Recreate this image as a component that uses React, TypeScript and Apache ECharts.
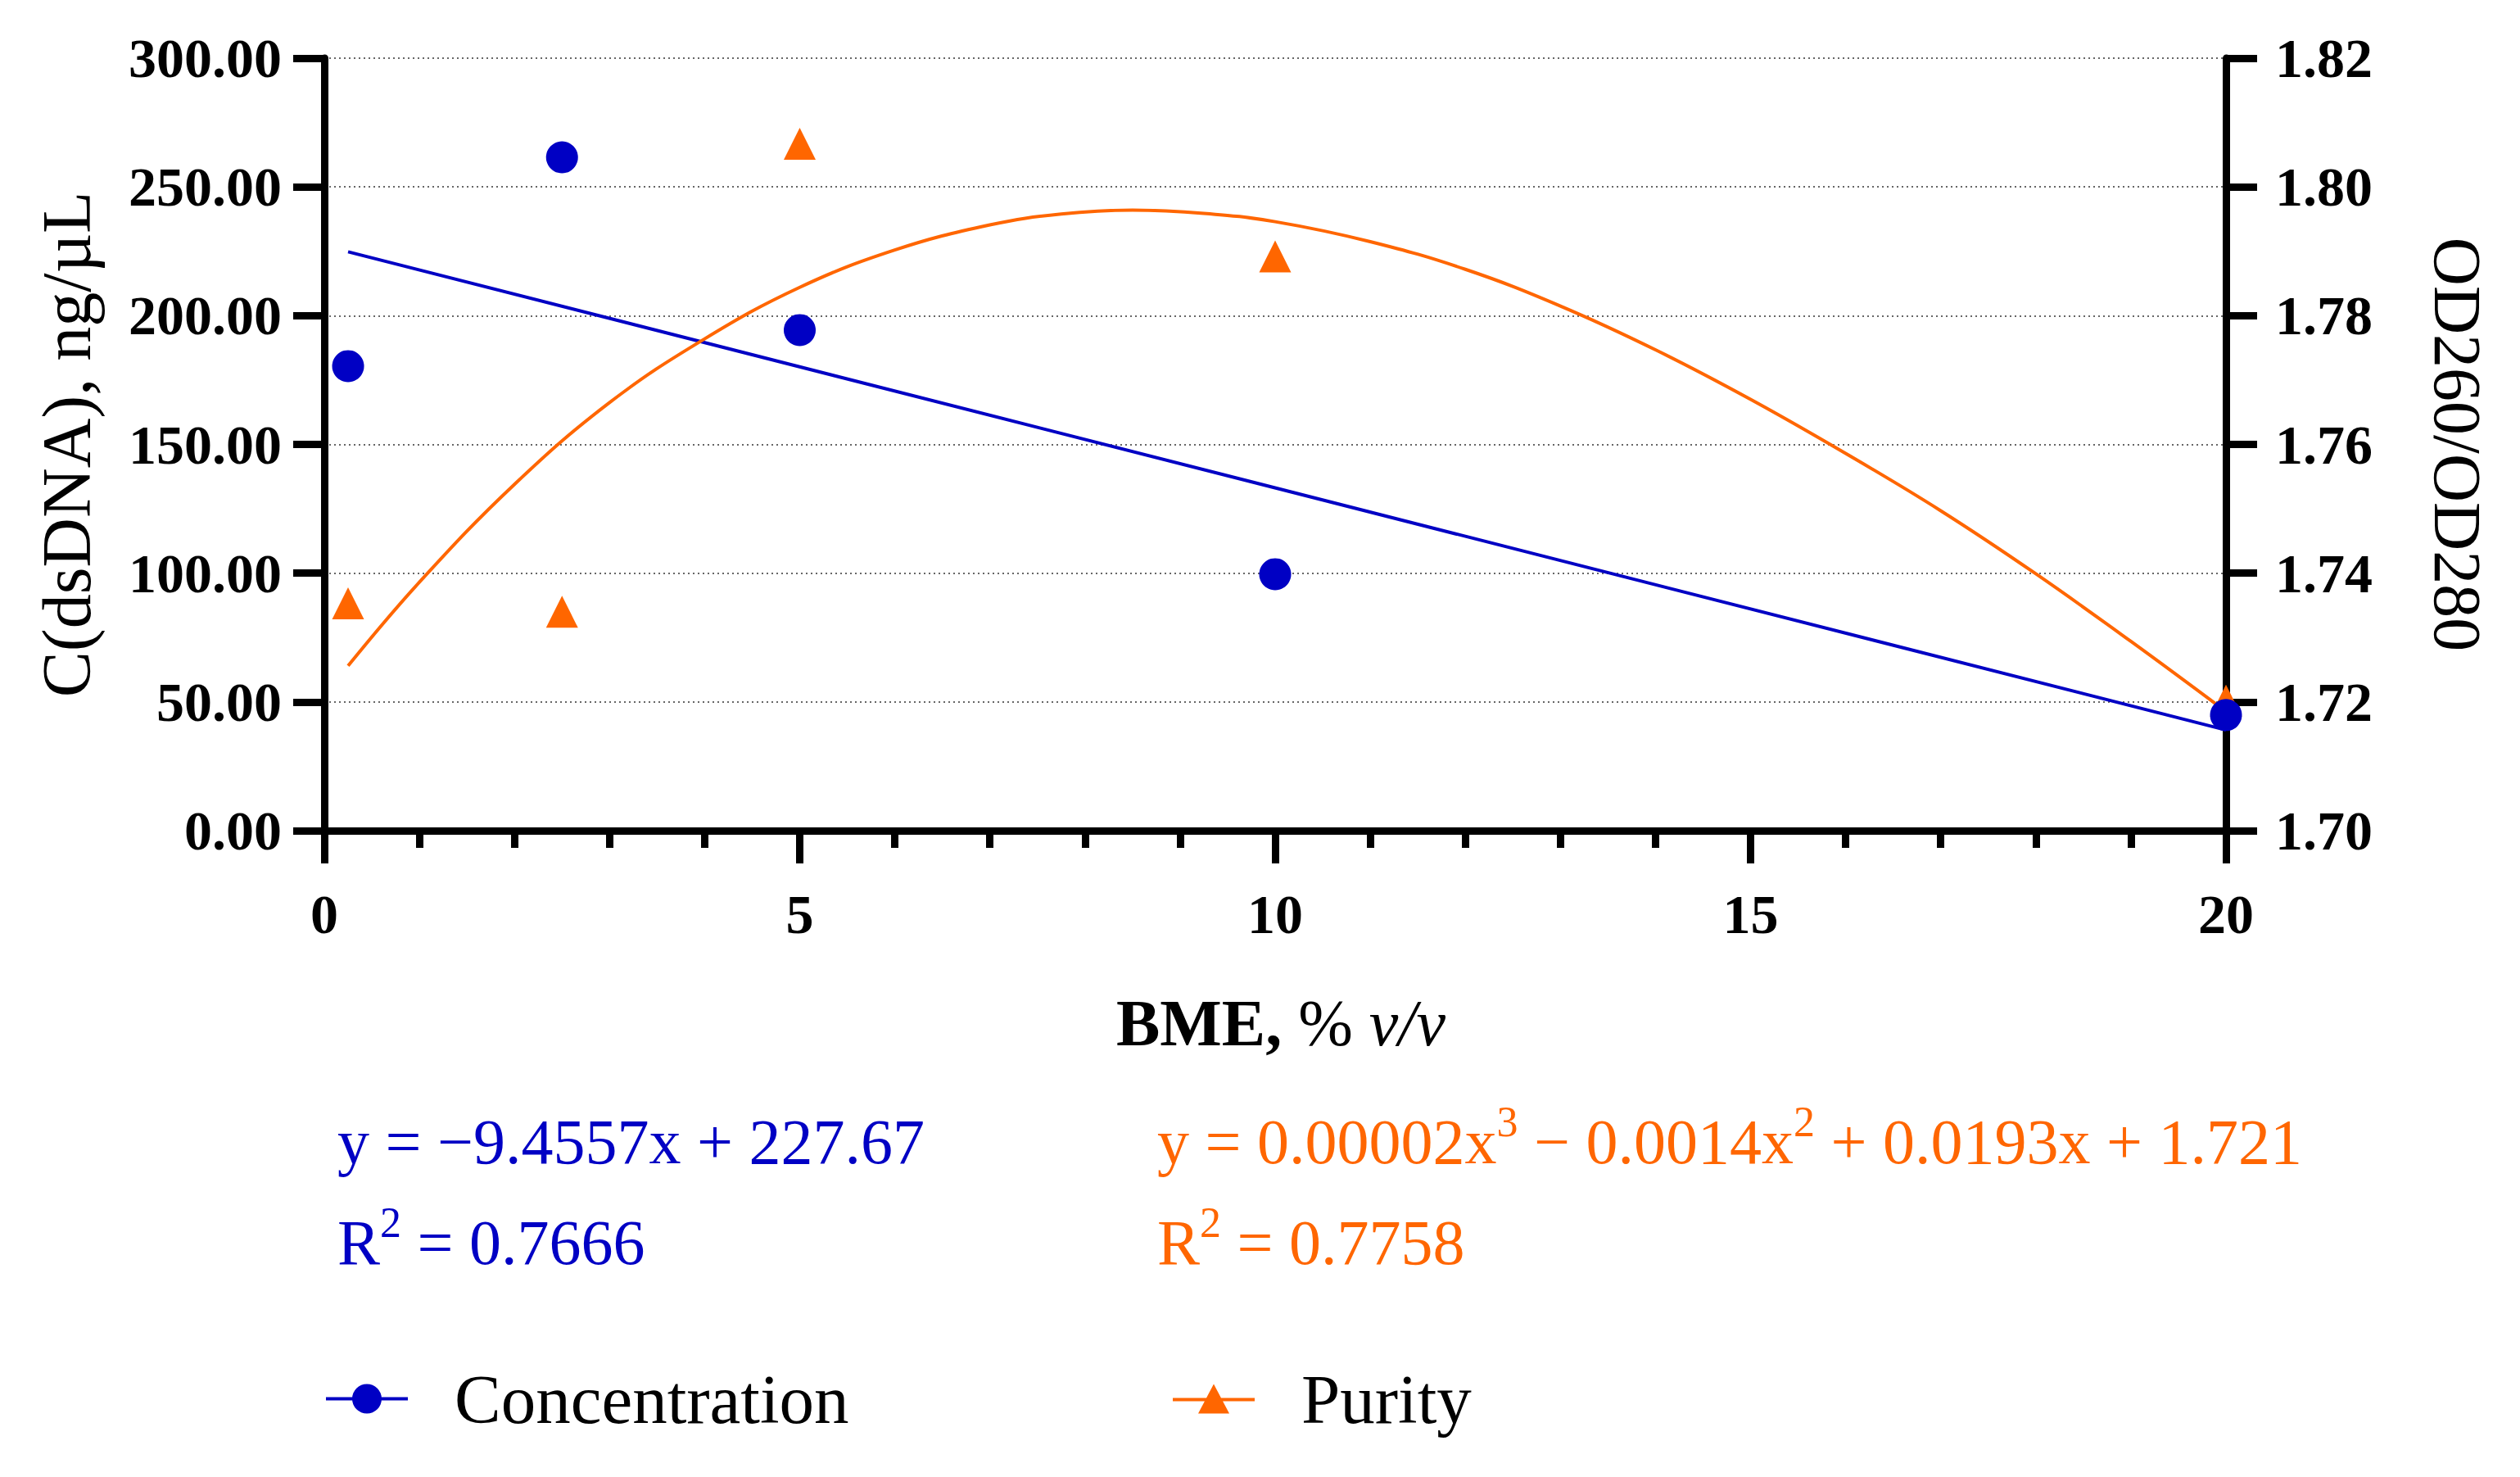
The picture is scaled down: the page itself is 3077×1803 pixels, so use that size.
import React, { useEffect, useRef } from "react";
import * as echarts from "echarts";

// ---- data ----
const BME_X = [0.25, 2.5, 5, 10, 20];
const CONCENTRATION = [180.4, 261.5, 194.4, 99.6, 44.9];
const PURITY = [1.7353, 1.734, 1.8067, 1.7892, 1.7202];

const CONC_FIT_X = [0.25, 20];
const CONC_FIT_Y = [224.8, 39.1];

const PURITY_FIT_X = [0.25, 1, 2, 3, 4, 5, 6, 7, 7.75, 8.5, 9.25, 10, 11, 12, 13, 14, 15, 16, 17, 18, 19, 20];
const PURITY_FIT_Y = [
  1.7256, 1.7386, 1.7538, 1.7665, 1.7764, 1.7844, 1.7902, 1.7941, 1.7958, 1.7964, 1.7959, 1.7946,
  1.7915, 1.7872, 1.7815, 1.7747, 1.767, 1.7586, 1.7497, 1.7399, 1.7294, 1.7185,
];

const LEFT_TICKS = { min: 0, max: 300, interval: 50 };
const RIGHT_TICKS = { min: 1.7, max: 1.82, interval: 0.02 };
const X_TICKS = { min: 0, max: 20, interval: 5 };

const EQ_CONC = ["y = −9.4557x + 227.67", "0.7666"];
const EQ_PURITY = ["y = 0.00002x", "3", " − 0.0014x", "2", " + 0.0193x + 1.721", "0.7758"];

const BLUE = "#0000C4";
const ORANGE = "#FF6600";
const FONT = "Liberation Serif";

const zip = (xs: number[], ys: number[]) => xs.map((x, i) => [x, ys[i]]);

const CIRCLE_ICON =
  "path://M0,16 L34,16 L34,20 L0,20 Z M66,16 L100,16 L100,20 L66,20 Z M32,18 A18,18 0 1,1 68,18 A18,18 0 1,1 32,18 Z";
const TRIANGLE_ICON =
  "path://M0,17 L100,17 L100,21 L0,21 Z M50,0 L69,36 L31,36 Z";

function richMain(color: string) {
  return {
    m: { fontSize: 78, fontFamily: FONT, fill: color, lineHeight: 100, verticalAlign: "middle" },
    s: { fontSize: 52, fontFamily: FONT, fill: color, lineHeight: 40, verticalAlign: "top" },
  };
}

export default function App() {
  const ref = useRef<HTMLDivElement>(null);

  useEffect(() => {
    if (!ref.current) return;
    const chart = echarts.init(ref.current, null, { renderer: "svg" });

    const axisLine = { show: true, onZero: false, lineStyle: { color: "#000", width: 9 } };
    const tickStyle = { color: "#000", width: 9 };
    const tickLabel = { color: "#000", fontSize: 68, fontWeight: "bold" as const, fontFamily: FONT };

    const option: any = {
      animation: false,
      backgroundColor: "#fff",
      grid: { left: 396, right: 359, top: 71, bottom: 789, containLabel: false, outerBoundsMode: "none" },
      xAxis: {
        type: "value",
        min: X_TICKS.min,
        max: X_TICKS.max,
        interval: X_TICKS.interval,
        axisLine,
        axisTick: { show: true, length: 40, lineStyle: tickStyle },
        minorTick: { show: true, splitNumber: 5, length: 21, lineStyle: tickStyle },
        splitLine: { show: false },
        axisLabel: { ...tickLabel, margin: 68 },
        name: "{b|BME,}{r| % }{i|v/v}",
        nameLocation: "middle",
        nameGap: 195,
        nameTextStyle: {
          padding: [0, 0, 0, 14],
          rich: {
            b: { fontSize: 80, fontWeight: "bold", fontFamily: FONT, color: "#000" },
            r: { fontSize: 80, fontFamily: FONT, color: "#000" },
            i: { fontSize: 80, fontStyle: "italic", fontFamily: FONT, color: "#000" },
          },
        },
      },
      yAxis: [
        {
          type: "value",
          position: "left",
          min: LEFT_TICKS.min,
          max: LEFT_TICKS.max,
          interval: LEFT_TICKS.interval,
          axisLine,
          axisTick: { show: true, length: 38, lineStyle: tickStyle },
          axisLabel: { ...tickLabel, margin: 52, formatter: (v: number) => v.toFixed(2) },
          splitLine: { show: true, lineStyle: { color: "#666", width: 2, type: [2, 4] } },
          name: "C(dsDNA), ng/µL",
          nameLocation: "middle",
          nameGap: 273,
          nameTextStyle: { fontSize: 84, fontFamily: FONT, color: "#000" },
        },
        {
          type: "value",
          position: "right",
          min: RIGHT_TICKS.min,
          max: RIGHT_TICKS.max,
          interval: RIGHT_TICKS.interval,
          axisLine,
          axisTick: { show: true, length: 38, lineStyle: tickStyle },
          axisLabel: { ...tickLabel, margin: 60, formatter: (v: number) => v.toFixed(2) },
          splitLine: { show: false },
          name: "OD260/OD280",
          nameLocation: "middle",
          nameRotate: -90,
          nameGap: 241,
          nameTextStyle: { fontSize: 82, fontFamily: FONT, color: "#000" },
        },
      ],
      legend: [
        {
          data: [{ name: "Concentration", icon: CIRCLE_ICON }],
          left: 398,
          top: 1665,
          padding: 0,
          itemWidth: 100,
          itemHeight: 36,
          textStyle: { fontSize: 85, fontFamily: FONT, color: "#000", padding: [0, 0, 0, 52] },
        },
        {
          data: [{ name: "Purity", icon: TRIANGLE_ICON }],
          left: 1432,
          top: 1665,
          padding: 0,
          itemWidth: 100,
          itemHeight: 36,
          textStyle: { fontSize: 85, fontFamily: FONT, color: "#000", padding: [0, 0, 0, 52] },
        },
      ],
      series: [
        {
          name: "Concentration fit",
          type: "line",
          yAxisIndex: 0,
          data: zip(CONC_FIT_X, CONC_FIT_Y),
          showSymbol: false,
          symbol: "none",
          lineStyle: { color: BLUE, width: 4 },
          z: 2,
          silent: true,
        },
        {
          name: "Purity fit",
          type: "line",
          yAxisIndex: 1,
          smooth: 0.4,
          data: zip(PURITY_FIT_X, PURITY_FIT_Y),
          showSymbol: false,
          symbol: "none",
          lineStyle: { color: ORANGE, width: 4 },
          z: 2,
          silent: true,
        },
        {
          name: "Purity",
          type: "scatter",
          yAxisIndex: 1,
          symbol: "triangle",
          symbolSize: 39,
          itemStyle: { color: ORANGE, opacity: 1 },
          data: zip(BME_X, PURITY),
          z: 3,
        },
        {
          name: "Concentration",
          type: "scatter",
          yAxisIndex: 0,
          symbol: "circle",
          symbolSize: 39,
          itemStyle: { color: BLUE, opacity: 1 },
          data: zip(BME_X, CONCENTRATION),
          z: 4,
        },
      ],
      graphic: [
        {
          type: "text",
          x: 412,
          y: 1343,
          style: { text: `{m|${EQ_CONC[0]}}`, rich: richMain(BLUE), verticalAlign: "top", align: "left" },
        },
        {
          type: "text",
          x: 412,
          y: 1466,
          style: { text: `{m|R}{s|2}{m| = ${EQ_CONC[1]}}`, rich: richMain(BLUE), verticalAlign: "top", align: "left" },
        },
        {
          type: "text",
          x: 1413,
          y: 1343,
          style: {
            text: `{m|${EQ_PURITY[0]}}{s|${EQ_PURITY[1]}}{m|${EQ_PURITY[2]}}{s|${EQ_PURITY[3]}}{m|${EQ_PURITY[4]}}`,
            rich: richMain(ORANGE),
            verticalAlign: "top",
            align: "left",
          },
        },
        {
          type: "text",
          x: 1413,
          y: 1466,
          style: { text: `{m|R}{s|2}{m| = ${EQ_PURITY[5]}}`, rich: richMain(ORANGE), verticalAlign: "top", align: "left" },
        },
      ],
    };

    chart.setOption(option);
    return () => chart.dispose();
  }, []);

  return (
    <div
      ref={ref}
      style={{ position: "fixed", left: 0, top: 0, width: 3077, height: 1803, background: "#fff" }}
    />
  );
}
